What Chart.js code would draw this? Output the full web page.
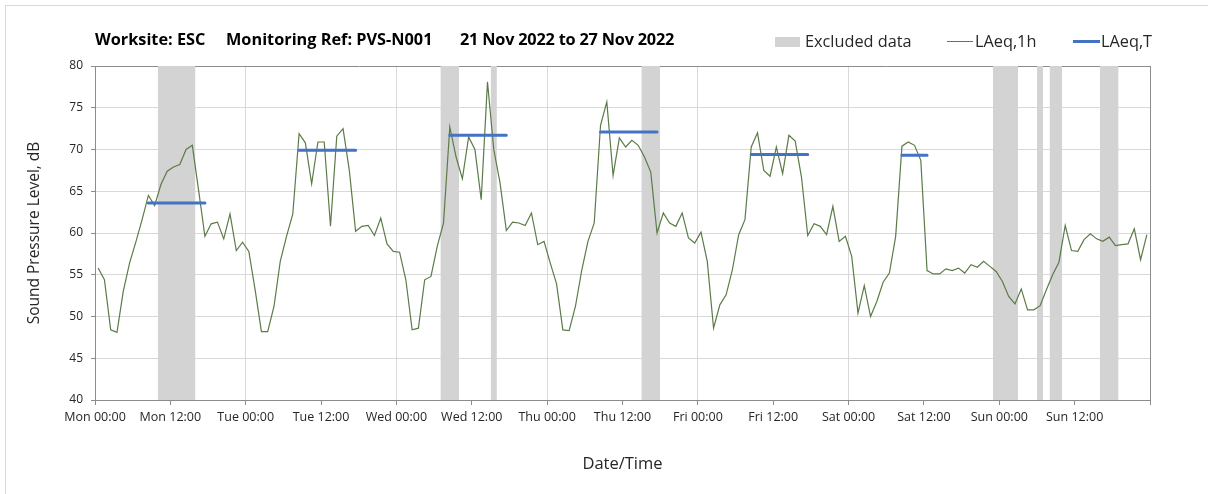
<!DOCTYPE html>
<html><head><meta charset="utf-8">
<script src="https://cdn.jsdelivr.net/npm/chart.js@4.4.1/dist/chart.umd.min.js"></script>
<style>
html,body{margin:0;padding:0;background:#fff;}
#wrap{position:relative;width:1208px;height:494px;overflow:hidden;font-family:"Open Sans",sans-serif;}
#frame{position:absolute;left:5px;top:5px;width:1210px;height:500px;border:1px solid #d9d9d9;box-sizing:border-box;}
canvas{position:absolute;left:0;top:0;}
.ttl{position:absolute;top:28px;font-weight:bold;font-size:16.3px;white-space:pre;color:#000;line-height:22px;}
.leg{position:absolute;font-size:16.3px;color:#262626;top:31px;white-space:pre;line-height:21px;}
.sw{position:absolute;}
</style></head>
<body><div id="wrap">
<div id="frame"></div>
<canvas id="c" width="1208" height="494"></canvas>
<div class="ttl" style="left:95px">Worksite: ESC</div>
<div class="ttl" style="left:226px">Monitoring Ref: PVS-N001</div>
<div class="ttl" style="left:460px;letter-spacing:-0.2px">21 Nov 2022 to 27 Nov 2022</div>
<div class="sw" style="left:775px;top:37px;width:25px;height:10px;background:#d3d3d3"></div>
<div class="leg" style="left:805px">Excluded data</div>
<div class="sw" style="left:947px;top:41px;width:26px;height:1px;background:#5b7b48"></div>
<div class="leg" style="left:975px">LAeq,1h</div>
<div class="sw" style="left:1073px;top:40px;width:27px;height:3px;background:#4472C4"></div>
<div class="leg" style="left:1101px">LAeq,T</div>
</div>
<script>
// x tick labels (every 12 h)
const xTickLabels = ['Mon 00:00','Mon 12:00','Tue 00:00','Tue 12:00','Wed 00:00','Wed 12:00','Thu 00:00','Thu 12:00','Fri 00:00','Fri 12:00','Sat 00:00','Sat 12:00','Sun 00:00','Sun 12:00'];
// hourly LAeq,1h values (dB), hour index 0 = Mon 00:00
const laeq1hMon = [55.8,54.4,48.4,48.1,53.0,56.4,58.9,61.6,64.5,63.3,65.8,67.4,67.9,68.2,70.0,70.5,65.1,59.6,61.1,61.3,59.3,62.3,57.9,58.9];
const laeq1hTue = [57.8,53.2,48.2,48.2,51.2,56.6,59.6,62.3,71.9,70.8,65.9,70.9,70.9,60.8,71.6,72.5,67.5,60.2,60.8,60.9,59.7,61.8,58.7,57.8];
const laeq1hWed = [57.7,54.4,48.4,48.6,54.4,54.8,58.4,61.2,72.7,69.1,66.5,71.5,70.0,64.0,78.1,70.0,66.0,60.3,61.3,61.2,60.9,62.4,58.6,59.0];
const laeq1hThu = [56.4,53.9,48.4,48.3,51.2,55.5,59.0,61.2,72.9,75.7,66.9,71.4,70.3,71.1,70.5,69.1,67.3,60.0,62.4,61.2,60.8,62.4,59.4,58.8];
const laeq1hFri = [60.1,56.6,48.6,51.4,52.6,55.6,59.8,61.6,70.3,72.0,67.5,66.8,70.3,67.1,71.7,71.0,66.7,59.7,61.1,60.8,59.8,63.2,59.0,59.6];
const laeq1hSat = [57.2,50.4,53.7,50.0,51.8,54.1,55.2,59.6,70.4,70.9,70.5,68.7,55.5,55.1,55.1,55.7,55.5,55.8,55.2,56.2,55.9,56.6,56.0,55.4];
const laeq1hSun = [54.2,52.4,51.5,53.3,50.8,50.8,51.3,53.2,55.0,56.5,60.9,57.9,57.8,59.2,59.9,59.3,59.0,59.5,58.5,58.6,58.7,60.5,56.8,59.8];
// LAeq,T periods: first and last hour index, level (dB)
const laeqTFirstHour = [8,32,56,80,104,128];
const laeqTLastHour  = [17,41,65,89,113,132];
const laeqTValues    = [63.6,69.9,71.7,72.1,69.4,69.3];
// excluded data periods (hours from Mon 00:00)
const excludedStart = [10,55,63,87,143,150,152,160];
const excludedEnd   = [16,58,64,90,147,151,154,163];

const laeq1h = [].concat(laeq1hMon,laeq1hTue,laeq1hWed,laeq1hThu,laeq1hFri,laeq1hSat,laeq1hSun);
const greenData = laeq1h.map((v,i)=>({x:i+0.5,y:v}));
const blueData = [];
laeqTValues.forEach((v,k)=>{
  blueData.push({x:laeqTFirstHour[k]+0.5,y:v});
  blueData.push({x:laeqTLastHour[k]+0.5,y:v});
  blueData.push({x:laeqTLastHour[k]+0.5,y:null});
});
const bandData = [];
excludedStart.forEach((s,k)=>{
  bandData.push({x:s,y:80});
  bandData.push({x:excludedEnd[k],y:80});
  bandData.push({x:excludedEnd[k],y:null});
});

const axisColor = '#8c8c8c';
const gridColor = '#d9d9d9';
const txt = '#262626';

new Chart(document.getElementById('c'), {
  type: 'line',
  data: { datasets: [
    {label:'LAeq,T', data: blueData, borderColor:'#4472C4', borderWidth:3, pointRadius:0, spanGaps:false, borderCapStyle:'round', fill:false, order:0},
    {label:'LAeq,1h', data: greenData, borderColor:'#5b7b48', borderWidth:1.2, pointRadius:0, fill:false, order:1, tension:0},
    {label:'Excluded data', data: bandData, borderWidth:0, borderColor:'rgba(0,0,0,0)', backgroundColor:'#d3d3d3', pointRadius:0, spanGaps:false, fill:'start', order:2}
  ]},
  options: {
    responsive:false, animation:false,
    layout:{padding:{left:20,right:58,top:66,bottom:20}},
    plugins:{legend:{display:false}, tooltip:{enabled:false}},
    scales:{
      x:{type:'linear', min:0, max:168,
        ticks:{stepSize:12, autoSkip:false, maxRotation:0, minRotation:0, padding:5,
          font:{family:'"Open Sans"', size:12.5}, color:txt,
          callback:(v)=> (xTickLabels[v/12] !== undefined ? xTickLabels[v/12] : '')},
        grid:{color:(ctx)=>{const v=ctx.tick?ctx.tick.value:null; if(v===0||v===168) return axisColor; return (v%24===0)?gridColor:'rgba(0,0,0,0)';},
          tickColor:axisColor, tickLength:5, lineWidth:1},
        border:{color:axisColor, width:1},
        title:{display:true, text:'Date/Time', font:{family:'"Open Sans"', size:16.5}, color:txt, padding:{top:5,bottom:0}},
        afterFit:(s)=>{s.height=74;}
      },
      y:{min:40, max:80,
        ticks:{stepSize:5, padding:8, font:{family:'"Open Sans"', size:12}, color:txt},
        grid:{color:(ctx)=>{const v=ctx.tick?ctx.tick.value:null; return (v===80||v===40)?axisColor:gridColor;}, tickColor:axisColor, tickLength:4, lineWidth:1},
        border:{color:axisColor, width:1},
        title:{display:true, text:'Sound Pressure Level, dB', font:{family:'"Open Sans"', size:15.5}, color:txt, padding:{top:5,bottom:0}},
        afterFit:(s)=>{s.width=75;}
      }
    }
  }
});
</script>
</body></html>
